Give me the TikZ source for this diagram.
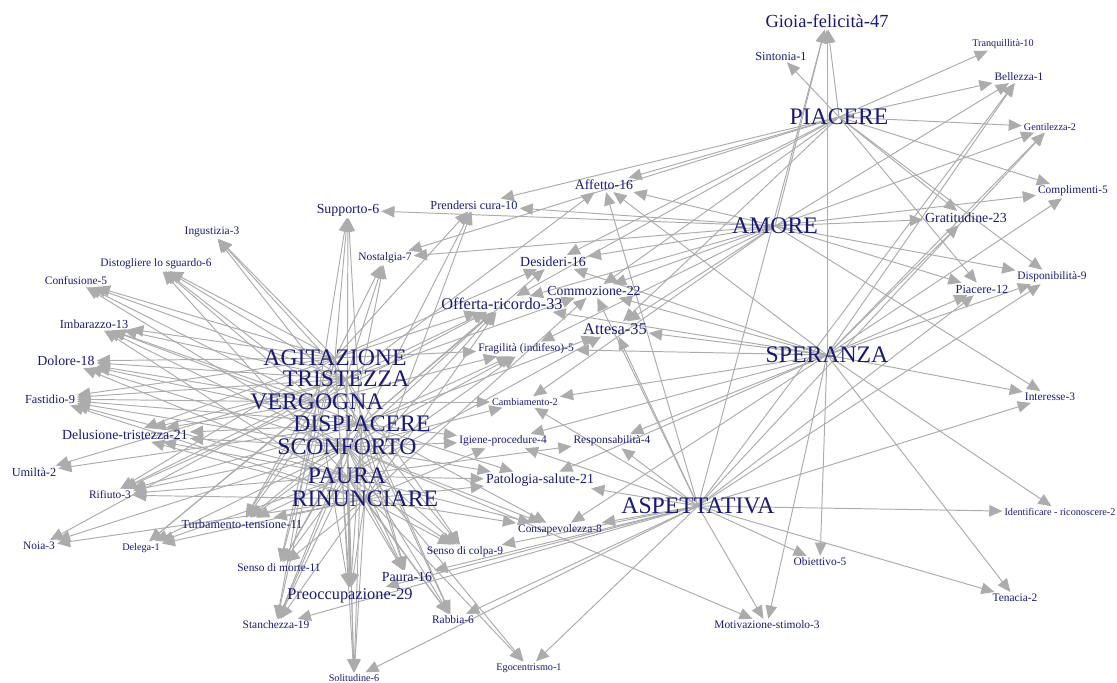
\documentclass[tikz,border=0pt]{standalone}
\usepackage{fontspec}
\setmainfont{Liberation Serif}
\usetikzlibrary{arrows.meta,backgrounds}
\definecolor{wordblue}{RGB}{25,25,120}
\definecolor{linkgray}{RGB}{172,172,172}
\tikzset{
  word/.style={text=wordblue, inner sep=1pt},
  hub/.style={word, font=\fontsize{13.5}{14}\selectfont},
  big/.style={word, font=\fontsize{9.3}{10}\selectfont},
  mid/.style={word, font=\fontsize{7.9}{9}\selectfont},
  small/.style={word, font=\fontsize{7}{8}\selectfont},
  tiny/.style={word, font=\fontsize{6.5}{7}\selectfont},
  mini/.style={word, font=\fontsize{5.8}{7}\selectfont},
  link/.style={color=linkgray, line width=0.55pt,
    every edge/.append style={-{Triangle[length=7.5pt,width=6.5pt]}}},
}

\begin{document}
\begin{tikzpicture}[x=0.02cm,y=-0.02cm]
\useasboundingbox (0,0) rectangle (1117,683);

\node[hub] (agit) at (335,358) {AGITAZIONE};
\node[hub] (trist) at (346,379) {TRISTEZZA};
\node[hub] (verg) at (317,402) {VERGOGNA};
\node[hub] (disp) at (362,424) {DISPIACERE};
\node[hub] (sconf) at (347,447) {SCONFORTO};
\node[hub] (paura) at (347,476) {PAURA};
\node[hub] (rinunc) at (365,499) {RINUNCIARE};
\node[hub] (piacere) at (839,117) {PIACERE};
\node[hub] (amore) at (775,226) {AMORE};
\node[hub] (speranza) at (827,355) {SPERANZA};
\node[hub] (aspett) at (698,506) {ASPETTATIVA};

\node[big, font=\fontsize{10.5}{12}\selectfont] (gioia) at (827,21) {Gioia-felicità-47};
\node[small] (sintonia) at (781,56) {Sintonia-1};
\node[mini] (tranq) at (1003,44) {Tranquillità-10};
\node[tiny] (bellezza) at (1019,77) {Bellezza-1};
\node[mini] (gentil) at (1050,127) {Gentilezza-2};
\node[tiny] (compl) at (1073,191) {Complimenti-5};
\node[mid] (gratit) at (966,218) {Gratitudine-23};
\node[tiny] (disponib) at (1052,277) {Disponibilità-9};
\node[small] (piacere12) at (982,289) {Piacere-12};
\node[tiny] (interesse) at (1050,397) {Interesse-3};
\node[mini] (identif) at (1060,512) {Identificare - riconoscere-2};
\node[tiny] (obiett) at (820,562) {Obiettivo-5};
\node[tiny] (tenacia) at (1015,598) {Tenacia-2};
\node[tiny] (motiv) at (767,625) {Motivazione-stimolo-3};

\node[mid] (affetto) at (604,185) {Affetto-16};
\node[small] (prendersi) at (474,205) {Prendersi cura-10};
\node[mid] (supporto) at (348,210) {Supporto-6};
\node[tiny] (nostalg) at (385,258) {Nostalgia-7};
\node[mid] (desideri) at (553,262) {Desideri-16};
\node[mid] (commoz) at (594,291) {Commozione-22};
\node[big] (offerta) at (502,304) {Offerta-ricordo-33};
\node[big] (attesa) at (615,329) {Attesa-35};
\node[tiny] (fragil) at (526,349) {Fragilità (indifeso)-5};
\node[mini] (cambiam) at (525,402) {Cambiamento-2};
\node[tiny] (igiene) at (503,441) {Igiene-procedure-4};
\node[tiny] (respons) at (612,441) {Responsabilità-4};
\node[mid] (patol) at (540,480) {Patologia-salute-21};
\node[tiny] (consap) at (560,530) {Consapevolezza-8};
\node[tiny] (colpa) at (465,552) {Senso di colpa-9};
\node[mid] (paura16) at (407,577) {Paura-16};
\node[big] (preocc) at (350,596) {Preoccupazione-29};
\node[tiny] (rabbia) at (453,620) {Rabbia-6};
\node[mini] (egoc) at (529,668) {Egocentrismo-1};
\node[mini] (solit) at (354,678) {Solitudine-6};
\node[tiny] (stanch) at (276,625) {Stanchezza-19};
\node[tiny] (morte) at (279,568) {Senso di morte-11};
\node[small] (turb) at (242,524) {Turbamento-tensione-11};
\node[mini] (delega) at (141,548) {Delega-1};
\node[tiny] (noia) at (39,546) {Noia-3};
\node[tiny] (rifiuto) at (110,495) {Rifiuto-3};
\node[small] (umilta) at (34,472) {Umiltà-2};
\node[mid] (delus) at (125,435) {Delusione-tristezza-21};
\node[small] (fastid) at (50,399) {Fastidio-9};
\node[mid] (dolore) at (66,361) {Dolore-18};
\node[small] (imbar) at (94,324) {Imbarazzo-13};
\node[tiny] (confus) at (76,281) {Confusione-5};
\node[tiny] (distog) at (156,264) {Distogliere lo sguardo-6};
\node[tiny] (ingust) at (212,232) {Ingustizia-3};

\begin{pgfonlayer}{background}
\path[link] (agit.center) edge (ingust) edge (distog) edge (confus) edge (imbar) edge (dolore) edge (fastid) edge (delus) edge (rifiuto) edge (turb) edge (morte) edge (preocc) edge (solit) edge (supporto) edge (nostalg) edge (prendersi) edge (offerta) edge (fragil) edge (desideri) edge (stanch) edge (paura16);
\path[link] (trist.center) edge (ingust) edge (distog) edge (confus) edge (imbar) edge (dolore) edge (fastid) edge (delus) edge (umilta) edge (rifiuto) edge (noia) edge (delega) edge (turb) edge (preocc) edge (solit) edge (offerta) edge (nostalg) edge (commoz) edge (rabbia) edge (colpa) edge (affetto);
\path[link] (verg.center) edge (distog) edge (confus) edge (imbar) edge (dolore) edge (fastid) edge (delus) edge (rifiuto) edge (delega) edge (turb) edge (morte) edge (preocc) edge (stanch) edge (supporto) edge (offerta) edge (fragil) edge (cambiam);
\path[link] (disp.center) edge (ingust) edge (distog) edge (imbar) edge (dolore) edge (fastid) edge (delus) edge (umilta) edge (rifiuto) edge (turb) edge (morte) edge (preocc) edge (stanch) edge (solit) edge (prendersi) edge (offerta) edge (desideri) edge (attesa) edge (fragil) edge (igiene) edge (patol) edge (colpa) edge (paura16) edge (rabbia) edge (consap);
\path[link] (sconf.center) edge (confus) edge (imbar) edge (dolore) edge (fastid) edge (delus) edge (rifiuto) edge (noia) edge (delega) edge (turb) edge (morte) edge (preocc) edge (stanch) edge (solit) edge (supporto) edge (nostalg) edge (offerta) edge (fragil) edge (cambiam) edge (igiene) edge (patol) edge (consap) edge (rabbia) edge (paura16) edge (colpa) edge (egoc) edge (motiv);
\path[link] (paura.center) edge (distog) edge (dolore) edge (fastid) edge (delus) edge (rifiuto) edge (delega) edge (turb) edge (morte) edge (preocc) edge (stanch) edge (paura16) edge (rabbia) edge (colpa) edge (patol) edge (consap) edge (offerta) edge (fragil) edge (attesa) edge (respons) edge (egoc);
\path[link] (rinunc.center) edge (imbar) edge (fastid) edge (delus) edge (rifiuto) edge (noia) edge (delega) edge (turb) edge (morte) edge (preocc) edge (stanch) edge (solit) edge (paura16) edge (rabbia) edge (colpa) edge (consap) edge (patol) edge (igiene) edge (supporto) edge (prendersi) edge (offerta) edge (commoz);
\path[link] (piacere.center) edge (sintonia) edge (gioia) edge (tranq) edge (bellezza) edge (gentil) edge (compl) edge (gratit) edge (piacere12) edge (disponib) edge (affetto) edge (prendersi) edge (desideri) edge (offerta) edge (attesa) edge (commoz) edge (nostalg);
\path[link] (amore.center) edge (gioia) edge (bellezza) edge (gentil) edge (compl) edge (gratit) edge (disponib) edge (piacere12) edge (interesse) edge (affetto) edge (prendersi) edge (desideri) edge (commoz) edge (offerta) edge (attesa) edge (fragil) edge (cambiam) edge (supporto) edge (nostalg);
\path[link] (speranza.center) edge (gioia) edge (bellezza) edge (gentil) edge (compl) edge (gratit) edge (piacere12) edge (disponib) edge (interesse) edge (identif) edge (obiett) edge (tenacia) edge (motiv) edge (affetto) edge (desideri) edge (commoz) edge (attesa) edge (offerta) edge (fragil) edge (cambiam) edge (igiene) edge (respons) edge (patol) edge (consap);
\path[link] (aspett.center) edge (gioia) edge (bellezza) edge (gentil) edge (piacere12) edge (disponib) edge (interesse) edge (identif) edge (obiett) edge (tenacia) edge (motiv) edge (attesa) edge (commoz) edge (affetto) edge (respons) edge (patol) edge (consap) edge (colpa) edge (paura16) edge (rabbia) edge (egoc) edge (solit) edge (preocc) edge (stanch) edge (cambiam) edge (igiene);
\end{pgfonlayer}
\end{tikzpicture}
\end{document}
